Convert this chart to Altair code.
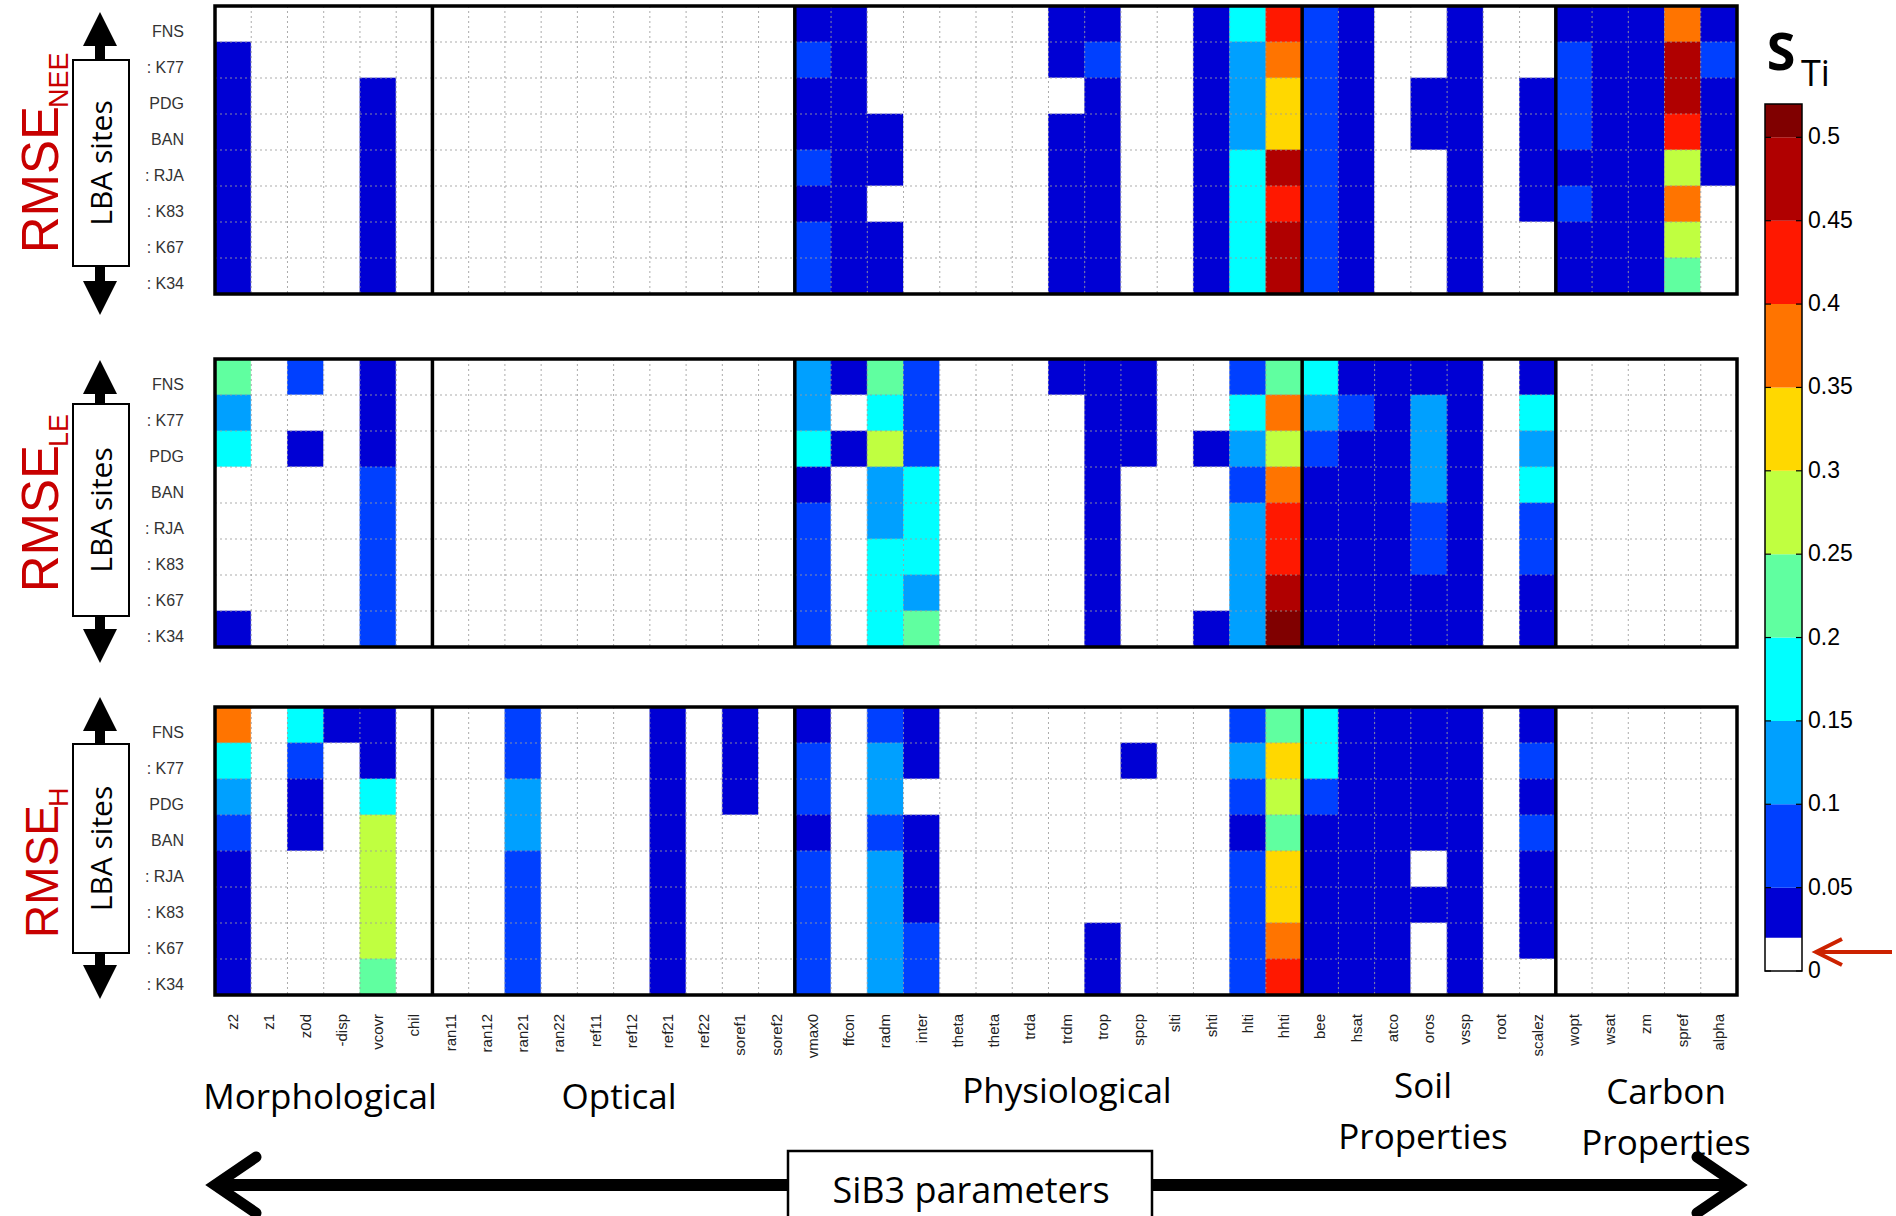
import altair as alt
import pandas as pd

# ---------------- data ----------------
SITES = ["FNS", "K77", "PDG", "BAN", "RJA", "K83", "K67", "K34"]
SITE_LABELS = ["FNS", ": K77", "PDG", "BAN", ": RJA", ": K83", ": K67", ": K34"]

PARAMS = ["z2", "z1", "z0d", "zp_disp", "vcover", "chil",
          "tran11", "tran12", "tran21", "tran22", "ref11", "ref12", "ref21", "ref22", "soref1", "soref2",
          "vmax0", "effcon", "gradm", "binter", "atheta", "btheta", "trda", "trdm", "trop", "respcp",
          "slti", "shti", "hlti", "hhti",
          "bee", "phsat", "satco", "poros", "wssp", "froot", "scalez",
          "wopt", "wsat", "zm", "spref", "alpha"]
PARAM_LABELS = ["z2", "z1", "z0d", "-disp", "vcovr", "chil",
                "ran11", "ran12", "ran21", "ran22", "ref11", "ref12", "ref21", "ref22", "soref1", "soref2",
                "vmax0", "ffcon", "radm", "inter", "theta", "theta", "trda", "trdm", "trop", "spcp",
                "slti", "shti", "hlti", "hhti",
                "bee", "hsat", "atco", "oros", "vssp", "root", "scalez",
                "wopt", "wsat", "zm", "spref", "alpha"]
GROUP_FIRST = ["tran11", "vmax0", "bee", "wopt"]

# S_Ti classes (colour bar)
BIN_EDGES = [0.0, 0.02, 0.05, 0.10, 0.15, 0.20, 0.25, 0.30, 0.35, 0.40, 0.45, 0.50, 0.52]
BIN_COLORS = ["#ffffff", "#0000d4", "#0040ff", "#00a0ff", "#00ffff", "#60ffa0",
              "#c0ff40", "#ffd800", "#ff7400", "#ff1800", "#b00000", "#800000"]
CB_TICKS = [0, 0.05, 0.1, 0.15, 0.2, 0.25, 0.3, 0.35, 0.4, 0.45, 0.5]
CB_TICK_LABELS = ["0", "0.05", "0.1", "0.15", "0.2", "0.25", "0.3", "0.35", "0.4", "0.45", "0.5"]

# total sensitivity index S_Ti per parameter, sites in SITES order (0 = not significant)
STI_NEE = {
    "z2":     [0, .03, .03, .03, .03, .03, .03, .03],
    "vcover": [0, 0, .03, .03, .03, .03, .03, .03],
    "vmax0":  [.03, .07, .03, .03, .07, .03, .07, .07],
    "effcon": [.03, .03, .03, .03, .03, .03, .03, .03],
    "gradm":  [0, 0, 0, .03, .03, 0, .03, .03],
    "trdm":   [.03, .03, 0, .03, .03, .03, .03, .03],
    "trop":   [.03, .07, .03, .03, .03, .03, .03, .03],
    "shti":   [.03, .03, .03, .03, .03, .03, .03, .03],
    "hlti":   [.17, .12, .12, .12, .17, .17, .17, .17],
    "hhti":   [.42, .37, .32, .32, .47, .42, .48, .48],
    "bee":    [.07, .07, .07, .07, .07, .07, .07, .07],
    "phsat":  [.03, .03, .03, .03, .03, .03, .03, .03],
    "poros":  [0, 0, .03, .03, 0, 0, 0, 0],
    "wssp":   [.03, .03, .03, .03, .03, .03, .03, .03],
    "scalez": [0, 0, .03, .03, .03, .03, 0, 0],
    "wopt":   [.03, .07, .07, .07, .03, .07, .03, .03],
    "wsat":   [.03, .03, .03, .03, .03, .03, .03, .03],
    "zm":     [.03, .03, .03, .03, .03, .03, .03, .03],
    "spref":  [.37, .47, .48, .42, .27, .37, .27, .22],
    "alpha":  [.03, .07, .03, .03, .03, 0, 0, 0],
}
STI_LE = {
    "z2":     [.22, .12, .17, 0, 0, 0, 0, .03],
    "z0d":    [.07, 0, .03, 0, 0, 0, 0, 0],
    "vcover": [.03, .03, .03, .07, .07, .07, .07, .07],
    "vmax0":  [.12, .12, .17, .03, .07, .07, .07, .07],
    "effcon": [.03, 0, .03, 0, 0, 0, 0, 0],
    "gradm":  [.22, .17, .27, .12, .12, .17, .17, .17],
    "binter": [.07, .07, .07, .17, .17, .17, .12, .22],
    "trdm":   [.03, 0, 0, 0, 0, 0, 0, 0],
    "trop":   [.03, .03, .03, .03, .03, .03, .03, .03],
    "respcp": [.03, .03, .03, 0, 0, 0, 0, 0],
    "shti":   [0, 0, .03, 0, 0, 0, 0, .03],
    "hlti":   [.07, .17, .12, .07, .12, .12, .12, .12],
    "hhti":   [.22, .37, .27, .37, .42, .42, .47, .51],
    "bee":    [.17, .12, .07, .03, .03, .03, .03, .03],
    "phsat":  [.03, .07, .03, .03, .03, .03, .03, .03],
    "satco":  [.03, .03, .03, .03, .03, .03, .03, .03],
    "poros":  [.03, .12, .12, .12, .07, .07, .03, .03],
    "wssp":   [.03, .03, .03, .03, .03, .03, .03, .03],
    "scalez": [.03, .17, .12, .17, .07, .07, .03, .03],
}
STI_H = {
    "z2":      [.37, .17, .12, .07, .03, .03, .03, .03],
    "z0d":     [.17, .07, .03, .03, 0, 0, 0, 0],
    "zp_disp": [.03, 0, 0, 0, 0, 0, 0, 0],
    "vcover":  [.03, .03, .17, .27, .27, .27, .27, .22],
    "tran21":  [.07, .07, .12, .12, .07, .07, .07, .07],
    "ref21":   [.03, .03, .03, .03, .03, .03, .03, .03],
    "soref1":  [.03, .03, .03, 0, 0, 0, 0, 0],
    "vmax0":   [.03, .07, .07, .03, .07, .07, .07, .07],
    "gradm":   [.07, .12, .12, .07, .12, .12, .12, .12],
    "binter":  [.03, .03, 0, .03, .03, .03, .07, .07],
    "trop":    [0, 0, 0, 0, 0, 0, .03, .03],
    "respcp":  [0, .03, 0, 0, 0, 0, 0, 0],
    "hlti":    [.07, .12, .07, .03, .07, .07, .07, .07],
    "hhti":    [.22, .32, .27, .22, .32, .32, .37, .42],
    "bee":     [.17, .17, .07, .03, .03, .03, .03, .03],
    "phsat":   [.03, .03, .03, .03, .03, .03, .03, .03],
    "satco":   [.03, .03, .03, .03, .03, .03, .03, .03],
    "poros":   [.03, .03, .03, .03, 0, .03, 0, 0],
    "wssp":    [.03, .03, .03, .03, .03, .03, .03, .03],
    "scalez":  [.03, .07, .03, .07, .03, .03, .03, 0],
}
PANELS = [("NEE", STI_NEE), ("LE", STI_LE), ("H", STI_H)]

GROUP_NAMES = ["Morphological", "Optical", "Physiological", "Soil", "Properties", "Carbon", "Properties"]

# ---------------- layout constants ----------------
W, H = 1896, 1216
PLOT_LEFT, PLOT_RIGHT = 215, 1737
PANEL_TOP = [6, 359, 707]
PANEL_H = 288
ARROW_TOP = [12, 360, 697]
BOX_TOP = [60, 404, 744]
BOX_BOTTOM = [266, 616, 953]
ARROW_BOTTOM = [315, 663, 999]
RMSE_JOIN = [106, 445, 805]
RMSE_SIZE = [51, 51, 46]
RED = "#c80000"
DECO_FONT = "Open Sans"
AX_FONT = "Liberation Sans"

ONE = pd.DataFrame({"k": [0]})

color_scale = alt.Scale(type="threshold", domain=BIN_EDGES[1:-1], range=BIN_COLORS)
x_scale = alt.Scale(domain=PARAMS, range=[PLOT_LEFT, PLOT_RIGHT], paddingInner=0, paddingOuter=0)


def sti_frame(table):
    rows = []
    for p in PARAMS:
        vals = table.get(p, [0] * len(SITES))
        for s, v in zip(SITES, vals):
            rows.append({"param": p, "site": s, "sti": v})
    return pd.DataFrame(rows)


def deco_text(text, x, y, size, **kw):
    return alt.Chart(ONE).mark_text(text=text, fontSize=size, **kw).encode(
        x=alt.value(x), y=alt.value(y))


def deco_rect(x1, x2, y1, y2, **kw):
    return alt.Chart(ONE).mark_rect(**kw).encode(
        x=alt.value(x1), x2=alt.value(x2), y=alt.value(y1), y2=alt.value(y2))


def deco_path(points, **kw):
    df = pd.DataFrame({"px": [p[0] for p in points], "py": [p[1] for p in points],
                       "o": list(range(len(points)))})
    return alt.Chart(df).mark_line(**kw).encode(
        x=alt.X("px:Q", scale=None), y=alt.Y("py:Q", scale=None), order="o:O")


def triangle(cx, cy, up, size=34):
    shape = "M0,-1L1,1L-1,1Z" if up else "M-1,-1L1,-1L0,1Z"
    return alt.Chart(ONE).mark_point(shape=shape, filled=True, color="black", opacity=1,
                                     size=size * size, strokeWidth=0).encode(
        x=alt.value(cx), y=alt.value(cy))


layers = []
for i, (name, table) in enumerate(PANELS):
    top = PANEL_TOP[i]
    bot = top + PANEL_H
    y_scale = alt.Scale(domain=SITES, range=[top, bot], paddingInner=0, paddingOuter=0)

    cells = alt.Chart(sti_frame(table)).mark_rect(strokeWidth=0.6).encode(
        x=alt.X("param:N", scale=x_scale, axis=None),
        y=alt.Y("site:N", scale=y_scale, axis=None),
        color=alt.Color("sti:Q", scale=color_scale, legend=None),
        stroke=alt.Stroke("sti:Q", scale=color_scale, legend=None),
    )
    vgrid = alt.Chart(pd.DataFrame({"param": [p for p in PARAMS[1:] if p not in GROUP_FIRST]})).mark_rule(
        strokeDash=[2, 3], color="#9c9c9c", strokeWidth=1, opacity=0.85).encode(
        x=alt.X("param:N", scale=x_scale, axis=None, bandPosition=0),
        y=alt.value(top), y2=alt.value(bot))
    hgrid = alt.Chart(pd.DataFrame({"site": SITES[1:]})).mark_rule(
        strokeDash=[2, 3], color="#9c9c9c", strokeWidth=1, opacity=0.85).encode(
        y=alt.Y("site:N", scale=y_scale, axis=None, bandPosition=0),
        x=alt.value(PLOT_LEFT), x2=alt.value(PLOT_RIGHT))
    seps = alt.Chart(pd.DataFrame({"param": GROUP_FIRST})).mark_rule(
        color="black", strokeWidth=3.5).encode(
        x=alt.X("param:N", scale=x_scale, axis=None, bandPosition=0),
        y=alt.value(top), y2=alt.value(bot))
    border = deco_rect(PLOT_LEFT, PLOT_RIGHT, top, bot, fillOpacity=0, stroke="black", strokeWidth=3.5)
    site_lab = alt.Chart(pd.DataFrame({"site": SITES, "label": SITE_LABELS})).mark_text(
        align="right", baseline="middle", dy=8, font=AX_FONT, fontSize=16, color="#333333").encode(
        x=alt.value(184), y=alt.Y("site:N", scale=y_scale, axis=None), text="label:N")

    # left decoration: double arrow + "LBA sites" box + RMSE label
    stem = deco_rect(95, 105, ARROW_TOP[i] + 30, ARROW_BOTTOM[i] - 30, color="black")
    tri_up = triangle(100, ARROW_TOP[i] + 17, True)
    tri_dn = triangle(100, ARROW_BOTTOM[i] - 17, False)
    box = deco_rect(73, 129, BOX_TOP[i], BOX_BOTTOM[i], fill="white", stroke="black", strokeWidth=2)
    lba = deco_text("LBA sites", 103, (BOX_TOP[i] + BOX_BOTTOM[i]) / 2, 30, angle=270,
                    align="center", baseline="middle", font=DECO_FONT, color="black")
    rmse = deco_text("RMSE", 58, RMSE_JOIN[i], RMSE_SIZE[i], angle=270, align="right",
                     baseline="alphabetic", font=AX_FONT, color=RED)
    sub = deco_text(name, 68, RMSE_JOIN[i] + 2, 27, angle=270, align="left",
                    baseline="alphabetic", font=AX_FONT, color=RED)

    layers += [cells, vgrid, hgrid, seps, border, site_lab, stem, tri_up, tri_dn, box, lba, rmse, sub]

# parameter tick labels below the bottom panel
param_lab = alt.Chart(pd.DataFrame({"param": PARAMS, "label": PARAM_LABELS})).mark_text(
    angle=270, align="right", baseline="middle", font=AX_FONT, fontSize=15, color="#222222").encode(
    x=alt.X("param:N", scale=x_scale, axis=None), y=alt.value(1014), text="label:N")
layers.append(param_lab)

# group names
grp = alt.Chart(pd.DataFrame({"name": GROUP_NAMES,
                              "gx": [320, 619, 1067, 1423, 1423, 1666, 1666],
                              "gy": [1098, 1098, 1092, 1087, 1138, 1093, 1144]})).mark_text(
    align="center", baseline="middle", font=DECO_FONT, fontSize=35, color="black").encode(
    x=alt.X("gx:Q", scale=None), y=alt.Y("gy:Q", scale=None), text="name:N")
layers.append(grp)

# SiB3 parameters double arrow
layers.append(deco_path([(222, 1185), (1731, 1185)], color="black", strokeWidth=12))
layers.append(deco_path([(256, 1157), (215, 1185), (256, 1213)], color="black", strokeWidth=11,
                        strokeJoin="miter", strokeCap="round"))
layers.append(deco_path([(1697, 1157), (1738, 1185), (1697, 1213)], color="black", strokeWidth=11,
                        strokeJoin="miter", strokeCap="round"))
layers.append(deco_rect(788, 1152, 1151, 1230, fill="white", stroke="black", strokeWidth=2.5))
layers.append(deco_text("SiB3 parameters", 971, 1192, 36, align="center", baseline="middle",
                        font=DECO_FONT, color="black"))

# colour bar
cb_scale = alt.Scale(domain=[0, 0.52], range=[971, 104], nice=False, zero=False)
cb_df = pd.DataFrame({"lo": BIN_EDGES[:-1], "hi": BIN_EDGES[1:]})
cb_df["mid"] = (cb_df["lo"] + cb_df["hi"]) / 2
layers.append(alt.Chart(cb_df).mark_rect().encode(
    x=alt.value(1765), x2=alt.value(1802),
    y=alt.Y("lo:Q", scale=cb_scale, axis=None), y2="hi:Q",
    color=alt.Color("mid:Q", scale=color_scale, legend=None)))
tick_df = pd.DataFrame({"t": CB_TICKS, "label": CB_TICK_LABELS})
layers.append(alt.Chart(tick_df).mark_rule(color="black", strokeWidth=1.2).encode(
    x=alt.value(1765), x2=alt.value(1771), y=alt.Y("t:Q", scale=cb_scale, axis=None)))
layers.append(alt.Chart(tick_df).mark_rule(color="black", strokeWidth=1.2).encode(
    x=alt.value(1796), x2=alt.value(1802), y=alt.Y("t:Q", scale=cb_scale, axis=None)))
layers.append(deco_rect(1765, 1802, 104, 971, fillOpacity=0, stroke="black", strokeWidth=1.5))
layers.append(alt.Chart(tick_df).mark_text(align="left", baseline="middle", font=AX_FONT,
                                           fontSize=23, color="black").encode(
    x=alt.value(1808), y=alt.Y("t:Q", scale=cb_scale, axis=None), text="label:N"))
layers.append(deco_text("S", 1781, 70, 52, align="center", baseline="alphabetic", font=DECO_FONT,
                        fontWeight="bold", color="black"))
layers.append(deco_text("Ti", 1801, 86, 36, align="left", baseline="alphabetic", font=DECO_FONT,
                        color="black"))
# red arrow marking the significance threshold
layers.append(deco_path([(1818, 952), (1892, 952)], color="#cc2200", strokeWidth=4))
layers.append(deco_path([(1842, 939), (1816, 952), (1842, 965)], color="#cc2200", strokeWidth=4,
                        strokeJoin="miter"))

chart = alt.layer(*layers).resolve_scale(x="independent", y="independent").properties(
    width=W, height=H, autosize=alt.AutoSizeParams(type="none"), padding=0, background="white"
).configure_view(strokeWidth=0)

chart.save("out.html", embed_options={"renderer": "svg", "actions": False})
